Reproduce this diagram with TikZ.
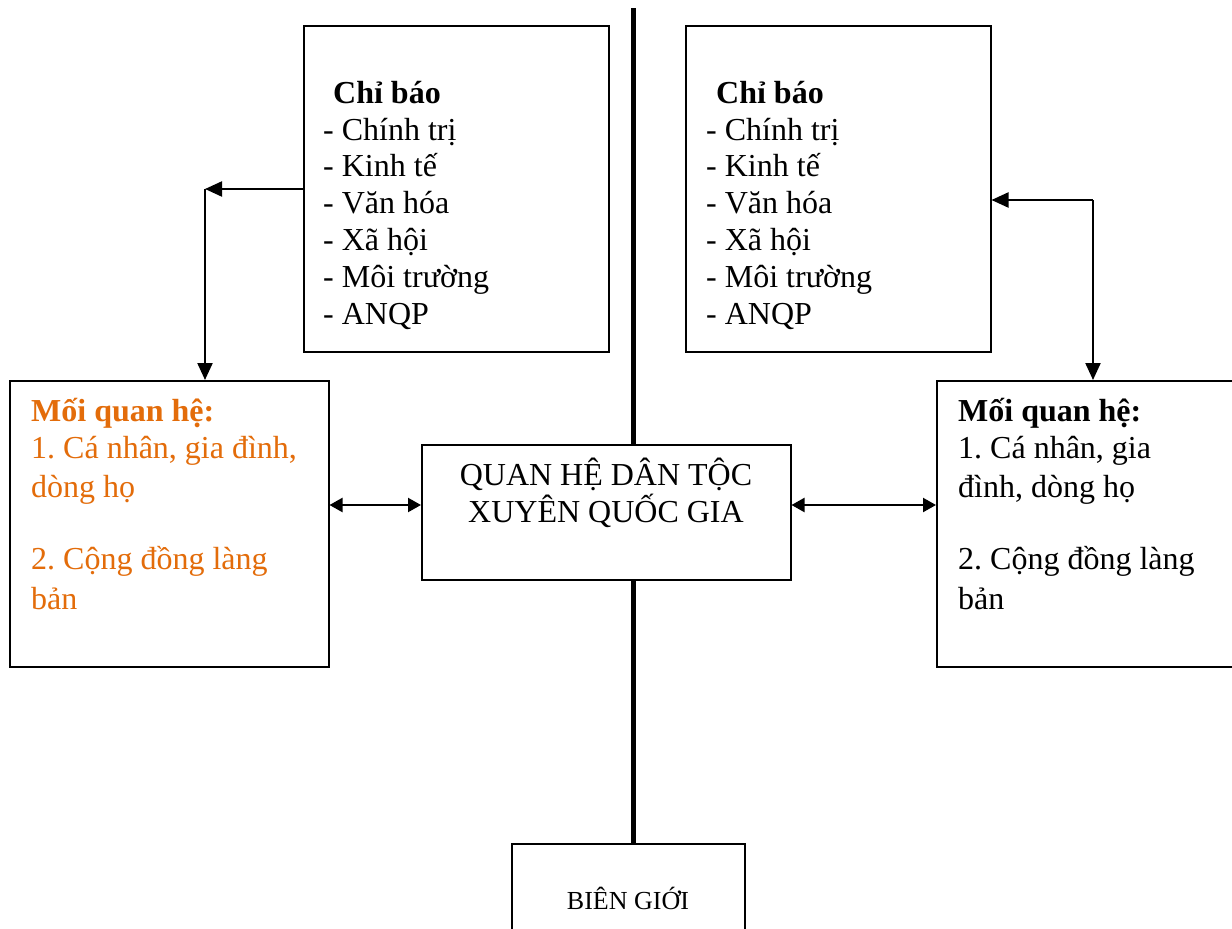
\documentclass[tikz,border=0pt]{standalone}
\usepackage{fontspec}
\setmainfont{Liberation Serif}
\usetikzlibrary{arrows.meta}
\definecolor{orng}{HTML}{E36C0A}
\frenchspacing
\begin{document}
\begin{tikzpicture}[x=1pt,y=-1pt,
  box/.style={draw, line width=1.5pt, fill=white, inner sep=0pt, anchor=north west},
  txt/.style={anchor=base west, inner sep=0pt, font=\fontsize{32}{37}\selectfont},
  conn/.style={line width=2.2pt, -{Triangle[length=17pt,width=15pt]}},
  dbl/.style={line width=2.2pt, {Triangle[length=13pt,width=14pt]}-{Triangle[length=13pt,width=14pt]}},
]
\useasboundingbox[fill=white] (0,0) rectangle (1232,929);

% border box and vertical line
\node[box, minimum width=233pt, minimum height=110pt] (border) at (511,843) {};
\coordinate (top) at (633,8);
\draw[line width=5pt] (top) -- (top |- border.north);
\node[anchor=base, inner sep=0pt, font=\fontsize{26}{30}\selectfont] (bt) at (628,909) {BIÊN GIỚI};

% boxes
\node[box, minimum width=305pt, minimum height=326pt] (ind1) at (303,25) {};
\node[box, minimum width=305pt, minimum height=326pt] (ind2) at (685,25) {};
\node[box, minimum width=319pt, minimum height=286pt] (rel1) at (9,380) {};
\node[box, minimum width=320pt, minimum height=286pt] (rel2) at (936,380) {};
\node[box, minimum width=369pt, minimum height=135pt] (core) at (421,444) {};

% core text
\node[anchor=base, inner sep=0pt, font=\fontsize{32}{37}\selectfont] (c1) at (606,485) {QUAN HỆ DÂN TỘC};
\node[anchor=base, inner sep=0pt, font=\fontsize{32}{37}\selectfont] (c2) at (606,522) {XUYÊN QUỐC GIA};

% indicator texts
\node[txt, font=\fontsize{32}{37}\selectfont\bfseries] (h1) at (333,103) {Chỉ báo};
\node[txt, font=\fontsize{32}{37}\selectfont\bfseries] (h2) at (716,103) {Chỉ báo};
\foreach \t [count=\k from 0] in {- Chính trị, - Kinh tế, - Văn hóa, - Xã hội, - Môi trường, - ANQP}{
  \node[txt] (a\k) at (323,140+36.8*\k) {\t};
  \node[txt] (b\k) at (706,140+36.8*\k) {\t};
}

% relation texts
\node[txt, text=orng, font=\fontsize{32}{37}\selectfont\bfseries] (m1) at (31,421) {Mối quan hệ:};
\node[txt, text=orng] (m2) at (31,458) {1. Cá nhân, gia đình,};
\node[txt, text=orng] (m3) at (31,497) {dòng họ};
\node[txt, text=orng] (m4) at (31,569) {2. Cộng đồng làng};
\node[txt, text=orng] (m5) at (31,609) {bản};

\node[txt, font=\fontsize{32}{37}\selectfont\bfseries] (n1) at (958,421) {Mối quan hệ:};
\node[txt] (n2) at (958,458) {1. Cá nhân, gia};
\node[txt] (n3) at (958,497) {đình, dòng họ};
\node[txt] (n4) at (958,569) {2. Cộng đồng làng};
\node[txt] (n5) at (958,609) {bản};

% connectors
\coordinate (cL) at (205,189);
\coordinate (cR) at (1093,200);
\coordinate (dY) at (0,505);
\draw[conn] (ind1.west |- cL) -- (cL);
\draw[conn] (cL) -- (cL |- rel1.north);
\draw[conn] (cR) -- (cR -| ind2.east);
\draw[conn] (cR) -- (cR |- rel2.north);
\draw[dbl] (rel1.east |- dY) -- (core.west |- dY);
\draw[dbl] (core.east |- dY) -- (rel2.west |- dY);
\end{tikzpicture}
\end{document}
